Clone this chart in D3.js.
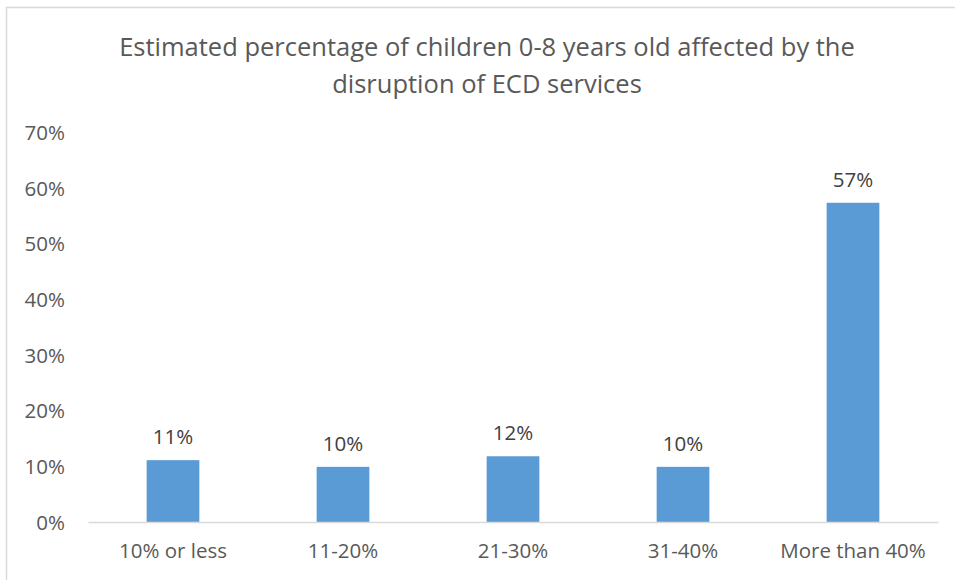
<!DOCTYPE html>
<html>
<head>
<meta charset="utf-8">
<script src="https://cdn.jsdelivr.net/npm/d3@7"></script>
<style>
  html, body { margin: 0; padding: 0; background: #fff; }
  svg { display: block; }
  text { font-family: "Open Sans", "Noto Sans", sans-serif; }
</style>
</head>
<body>
<svg id="chart" width="955" height="580"></svg>
<script>
const categories = ["10% or less", "11-20%", "21-30%", "31-40%", "More than 40%"];
const values = [11.1, 9.9, 11.8, 9.9, 57.3];
const dataLabels = ["11%", "10%", "12%", "10%", "57%"];
const yTicks = [0, 10, 20, 30, 40, 50, 60, 70];
const titleLines = ["Estimated percentage of children 0-8 years old affected by the", "disruption of ECD services"];

const svg = d3.select("#chart");

// chart border
svg.append("rect")
  .attr("x", 6.5).attr("y", 7.5)
  .attr("width", 1000).attr("height", 700)
  .attr("fill", "#fff").attr("stroke", "#d9d9d9").attr("stroke-width", 1.5);

const plot = { left: 88, right: 938, top: 132, bottom: 522 };

const x = d3.scaleBand()
  .domain(categories)
  .range([plot.left, plot.right])
  .paddingInner(0.69)
  .paddingOuter(0.345);

const y = d3.scaleLinear().domain([0, 70]).range([plot.bottom, plot.top]);

// title
svg.append("g").selectAll("text").data(titleLines).join("text")
  .attr("x", 487).attr("y", (d, i) => 56 + i * 37)
  .attr("text-anchor", "middle")
  .attr("fill", "#595959")
  .attr("font-size", 25.5)
  .text(d => d);

// y axis (labels only)
const yAxis = d3.axisLeft(y).tickValues(yTicks).tickFormat(d => d + "%").tickSize(0).tickPadding(0);
const gy = svg.append("g").attr("transform", `translate(65,0)`).call(yAxis);
gy.select(".domain").remove();
gy.selectAll("text").attr("font-size", 20.5).attr("fill", "#595959")
  .attr("font-family", "\"Open Sans\", sans-serif").attr("dy", "0.36em");

// bars
svg.append("g").selectAll("rect").data(values).join("rect")
  .attr("x", (d, i) => x(categories[i]))
  .attr("y", d => y(d))
  .attr("width", x.bandwidth())
  .attr("height", d => y(0) - y(d))
  .attr("fill", "#5b9bd5");

// x axis
const xAxis = d3.axisBottom(x).tickSize(0).tickPadding(0);
const gx = svg.append("g").attr("transform", `translate(0,${plot.bottom})`).call(xAxis);
gx.select(".domain").attr("stroke", "#d9d9d9").attr("stroke-width", 1.5);
gx.selectAll("text").attr("font-size", 20.5).attr("fill", "#595959")
  .attr("font-family", "\"Open Sans\", sans-serif").attr("dy", "0").attr("y", 36);

// data labels
svg.append("g").selectAll("text").data(values).join("text")
  .attr("x", (d, i) => x(categories[i]) + x.bandwidth() / 2)
  .attr("y", d => y(d) - 16)
  .attr("text-anchor", "middle")
  .attr("fill", "#404040")
  .attr("font-size", 20.5)
  .text((d, i) => dataLabels[i]);
</script>
</body>
</html>
